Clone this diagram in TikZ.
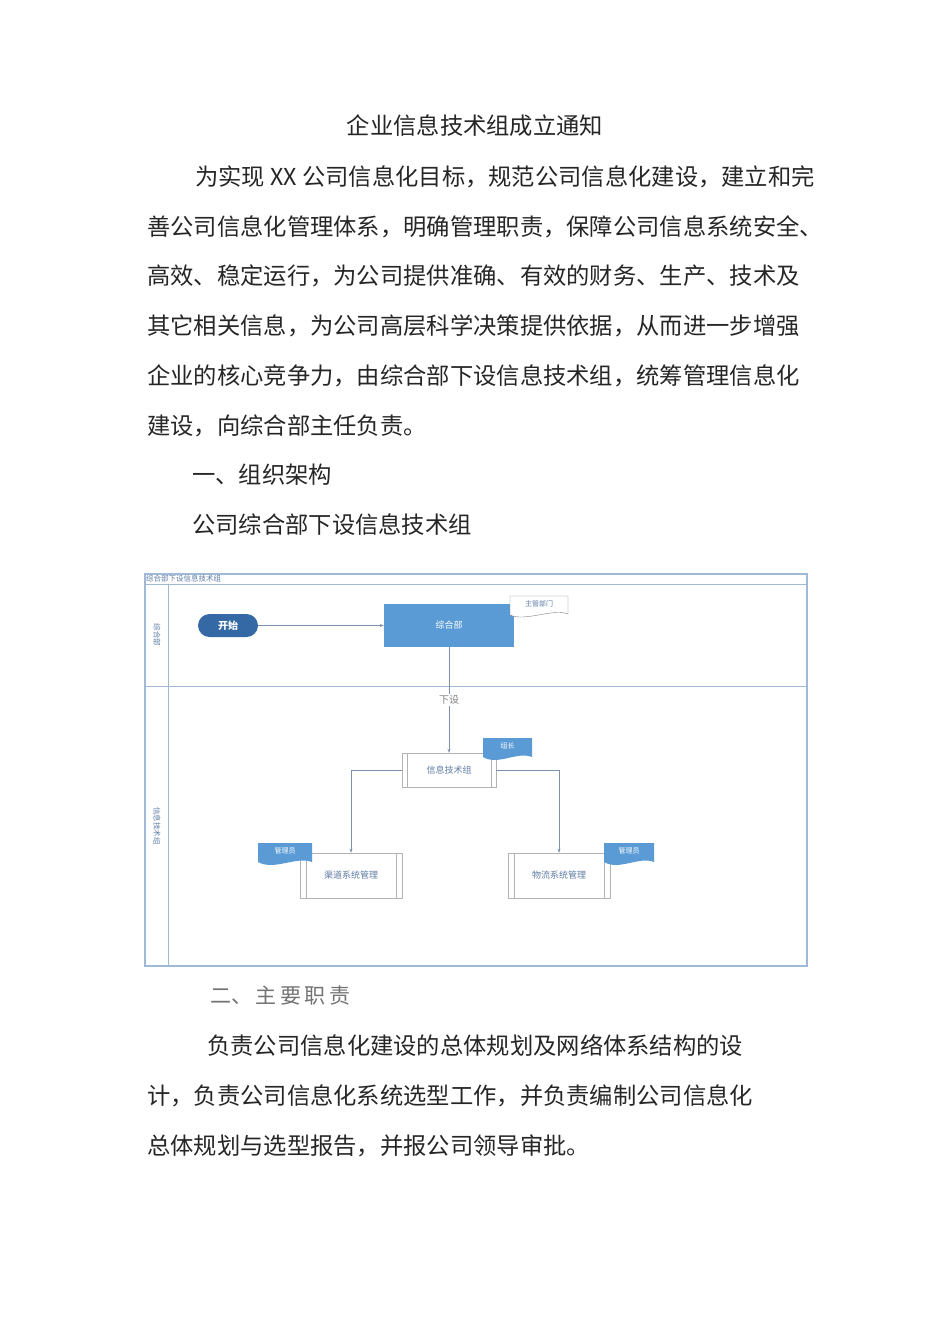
\documentclass[tikz,border=0pt]{standalone}
\usepackage{fontspec}
\usetikzlibrary{arrows.meta}
\newfontfamily\cjk{Noto Sans CJK SC}
\definecolor{mblue}{RGB}{91,155,213}
\definecolor{dblue}{RGB}{52,105,165}
\definecolor{lline}{RGB}{160,185,215}
\definecolor{ltext}{RGB}{95,125,165}
\definecolor{aline}{RGB}{125,145,175}
\begin{document}
\begin{tikzpicture}[x=1pt,y=-1pt,
 body/.style={anchor=west,inner sep=0pt,font=\cjk\fontsize{23.3}{24}\selectfont,text=black!85},
 small/.style={font=\cjk\fontsize{9}{10}\selectfont},
 ln/.style={draw=lline,line width=0.8pt},
 arr/.style={draw=aline,line width=0.8pt,-{Stealth[length=4pt]}}]
\useasboundingbox (0,0) rectangle (950,1344);
\fill[white] (0,0) rectangle (950,1344);
\node[body,anchor=center] (t) at (475,126) {企业信息技术组成立通知};
\node[body] (p1) at (195,177) {为实现 XX 公司信息化目标，规范公司信息化建设，建立和完};
\node[body] (p2) at (147,227) {善公司信息化管理体系，明确管理职责，保障公司信息系统安全、};
\node[body] (p3) at (147,276) {高效、稳定运行，为公司提供准确、有效的财务、生产、技术及};
\node[body] (p4) at (147,326) {其它相关信息，为公司高层科学决策提供依据，从而进一步增强};
\node[body] (p5) at (147,376) {企业的核心竞争力，由综合部下设信息技术组，统筹管理信息化};
\node[body] (p6) at (147,426) {建设，向综合部主任负责。};
\node[body] (h1) at (192,475) {一、组织架构};
\node[body] (h2) at (192,525) {公司综合部下设信息技术组};
% diagram frame
\draw[ln,line width=1.2pt] (145,574) rectangle (807,966);
\draw[ln] (145,584) -- (807,584);
\draw[ln] (168,584) -- (168,966);
\draw[ln] (145,686) -- (807,686);
\node[anchor=west,inner sep=1pt,text=ltext,font=\cjk\fontsize{7.5}{8}\selectfont] (ttl) at (145,579) {综合部下设信息技术组};
\node[small,text=ltext,rotate=-90,font=\cjk\fontsize{7.5}{8}\selectfont] (l1) at (157,635) {综合部};
\node[small,text=ltext,rotate=-90,font=\cjk\fontsize{7.5}{8}\selectfont] (l2) at (157,826) {信息技术组};
% nodes
\node[small,text=white,fill=dblue,rounded corners=11.5pt,minimum width=60pt,minimum height=23pt,inner sep=0pt,font=\cjk\bfseries\fontsize{10}{11}\selectfont] (start) at (228,625.5) {开始};
\node[small,text=white,fill=mblue,minimum width=130pt,minimum height=43pt,inner sep=0pt] (zhb) at (449,625.5) {综合部};
\draw[draw=gray,fill=white] (510,596) -- (568,596) -- (568,614) .. controls (553,608) and (525,622) .. (510,615) -- cycle;
\node[font=\cjk\fontsize{7}{8}\selectfont,text=ltext] (zg) at (539,604) {主管部门};
\node[small,text=ltext,draw=gray!60,fill=white,minimum width=94pt,minimum height=34pt,inner sep=0pt] (xx) at (449,770) {信息技术组};
\draw[gray!60] (407,753) -- (407,787) (491,753) -- (491,787);
\node[small,text=ltext,draw=gray!60,fill=white,minimum width=102pt,minimum height=45pt,inner sep=0pt] (qd) at (351,875.5) {渠道系统管理};
\draw[gray!60] (306,853) -- (306,898) (396,853) -- (396,898);
\node[small,text=ltext,draw=gray!60,fill=white,minimum width=102pt,minimum height=45pt,inner sep=0pt] (wl) at (559,875.5) {物流系统管理};
\draw[gray!60] (514,853) -- (514,898) (604,853) -- (604,898);
% blue doc shapes
\foreach \x/\y/\w/\t/\n in {483/738/49/组长/zz,258/843/54/管理员/g1,604/843/50/管理员/g2}{
 \fill[mblue] (\x,\y) -- ({\x+\w},\y) -- ({\x+\w},{\y+19}) .. controls ({\x+0.7*\w},{\y+13}) and ({\x+0.3*\w},{\y+28}) .. (\x,{\y+19}) -- cycle;
 \node[text=white,font=\cjk\fontsize{7}{8}\selectfont] (\n) at ({\x+\w/2},{\y+8}) {\t};
}
% connectors
\draw[arr] (start) -- (zhb);
\draw[arr] (zhb) -- node[fill=white,text=gray,font=\cjk\fontsize{10}{11}\selectfont,inner sep=1pt]{下设} (xx);
\draw[arr] (xx.west) -| (qd.north);
\draw[arr] (xx.east) -| (wl.north);
% bottom text
\node[body,text=black!55,font=\fontsize{21}{22}\selectfont\cjk] (h3) at (210,996) {二、\,主\,要\,职\,责};
\node[body] (q1) at (207,1046) {负责公司信息化建设的总体规划及网络体系结构的设};
\node[body] (q2) at (147,1096) {计，负责公司信息化系统选型工作，并负责编制公司信息化};
\node[body] (q3) at (147,1146) {总体规划与选型报告，并报公司领导审批。};
\end{tikzpicture}
\end{document}
